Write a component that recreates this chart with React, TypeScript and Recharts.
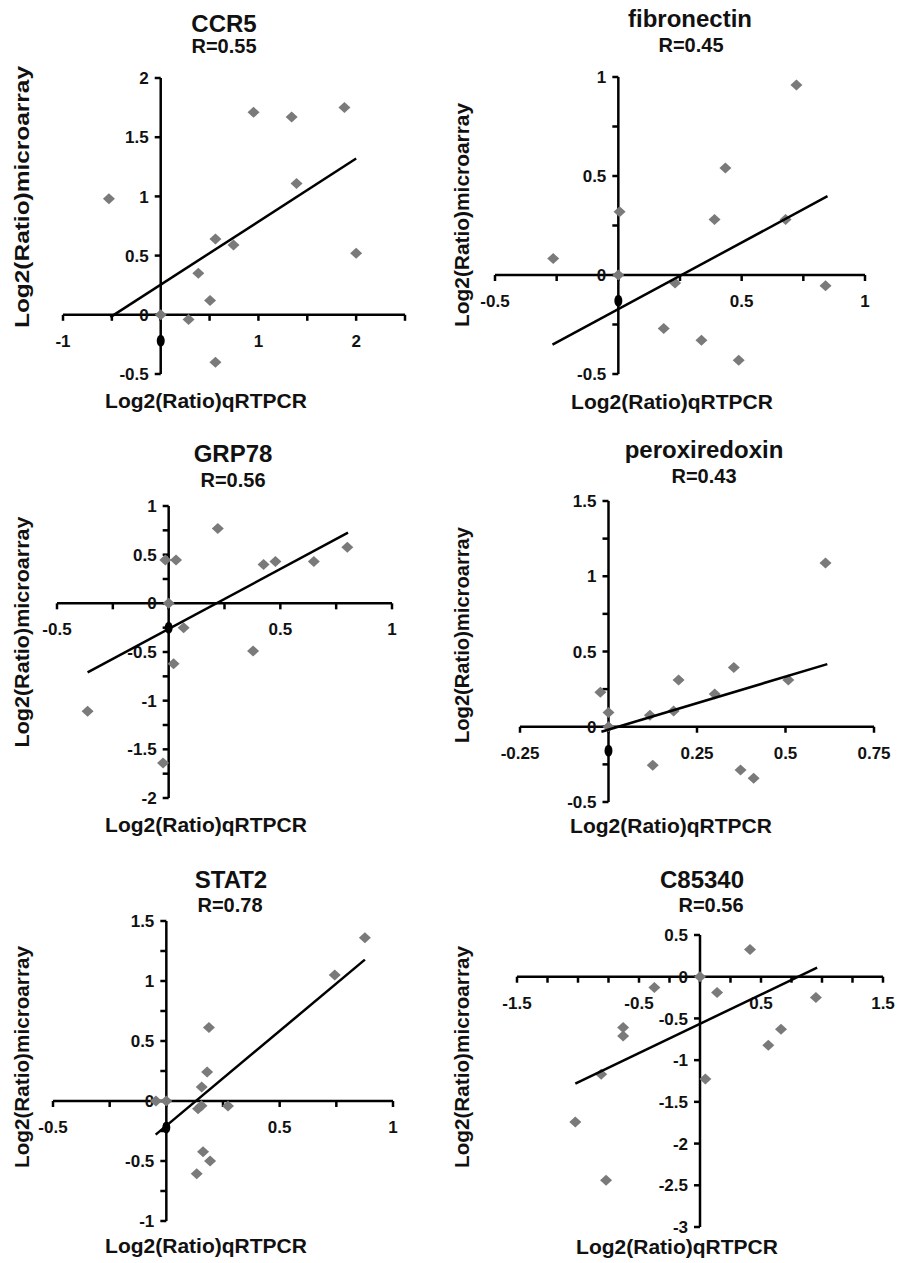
import React from "react";
import { ScatterChart, Scatter, XAxis, YAxis, ReferenceLine, ReferenceDot } from "recharts";

// ---------- data ----------
const ccr5X = [-0.53, 0, 0.285, 0.385, 0.505, 0.56, 0.56, 0.745, 0.95, 1.34, 1.39, 1.88, 2.0];
const ccr5Y = [0.98, 0, -0.04, 0.35, 0.12, 0.64, -0.4, 0.59, 1.71, 1.67, 1.11, 1.75, 0.52];
const ccr5Black = [-0.22];
const ccr5Trend = [[-0.515, -0.02], [2.0, 1.32]];

const fibX = [-0.264, 0, 0.005, 0.23, 0.184, 0.337, 0.39, 0.434, 0.488, 0.678, 0.722, 0.84];
const fibY = [0.083, 0, 0.32, -0.04, -0.27, -0.33, 0.28, 0.54, -0.43, 0.28, 0.96, -0.054];
const fibBlack = [-0.13];
const fibTrend = [[-0.267, -0.352], [0.848, 0.398]];

const grpX = [-0.363, -0.025, -0.015, 0.033, 0, 0.067, 0.022, 0.22, 0.378, 0.425, 0.478, 0.65, 0.8];
const grpY = [-1.11, -1.64, 0.445, 0.445, 0, -0.25, -0.62, 0.77, -0.49, 0.4, 0.43, 0.43, 0.575];
const grpBlack = [-0.25];
const grpTrend = [[-0.363, -0.71], [0.803, 0.726]];

const prxX = [-0.023, 0, 0, 0.117, 0.125, 0.184, 0.198, 0.3, 0.354, 0.373, 0.41, 0.508, 0.613];
const prxY = [0.23, 0.095, 0, 0.077, -0.255, 0.104, 0.31, 0.217, 0.394, -0.288, -0.343, 0.31, 1.088];
const prxBlack = [-0.16];
const prxTrend = [[-0.02, -0.033], [0.618, 0.416]];

const statX = [-0.046, 0, 0.134, 0.14, 0.155, 0.156, 0.162, 0.18, 0.188, 0.193, 0.272, 0.743, 0.876];
const statY = [0, 0, -0.607, -0.065, -0.04, 0.117, -0.423, 0.242, 0.613, -0.5, -0.042, 1.05, 1.36];
const statBlack = [-0.22];
const statTrend = [[-0.047, -0.28], [0.876, 1.178]];

const cX = [-1.022, -0.77, -0.81, -0.63, -0.63, -0.374, 0, 0.044, 0.14, 0.41, 0.56, 0.664, 0.95];
const cY = [-1.74, -2.44, -1.17, -0.61, -0.71, -0.13, 0, -1.225, -0.19, 0.327, -0.82, -0.63, -0.25];
const cBlack: number[] = [];
const cTrend = [[-1.022, -1.28], [0.96, 0.108]];

// ---------- ticks ----------
const ccr5XTicks = [-1, -0.5, 0, 0.5, 1, 1.5, 2, 2.5];
const ccr5XLabels = [-1, 1, 2];
const ccr5YTicks = [-0.5, 0, 0.5, 1, 1.5, 2];
const ccr5YLabels = [-0.5, 0, 0.5, 1, 1.5, 2];

const fibXTicks = [-0.5, -0.25, 0, 0.25, 0.5, 0.75, 1];
const fibXLabels = [-0.5, 0.5, 1];
const fibYTicks = [-0.5, -0.25, 0, 0.25, 0.5, 0.75, 1];
const fibYLabels = [-0.5, 0, 0.5, 1];

const grpXTicks = [-0.5, -0.25, 0, 0.25, 0.5, 0.75, 1];
const grpXLabels = [-0.5, 0.5, 1];
const grpYTicks = [-2, -1.75, -1.5, -1.25, -1, -0.75, -0.5, -0.25, 0, 0.25, 0.5, 0.75, 1];
const grpYLabels = [-2, -1.5, -1, -0.5, 0, 0.5, 1];

const prxXTicks = [-0.25, 0, 0.25, 0.5, 0.75];
const prxXLabels = [-0.25, 0.25, 0.5, 0.75];
const prxYTicks = [-0.5, -0.25, 0, 0.25, 0.5, 0.75, 1, 1.25, 1.5];
const prxYLabels = [-0.5, 0, 0.5, 1, 1.5];

const statXTicks = [-0.5, -0.25, 0, 0.25, 0.5, 0.75, 1];
const statXLabels = [-0.5, 0.5, 1];
const statYTicks = [-1, -0.75, -0.5, -0.25, 0, 0.25, 0.5, 0.75, 1, 1.25, 1.5];
const statYLabels = [-1, -0.5, 0, 0.5, 1, 1.5];

const cXTicks = [-1.5, -1.25, -1, -0.75, -0.5, -0.25, 0, 0.25, 0.5, 0.75, 1, 1.25, 1.5];
const cXLabels = [-1.5, -0.5, 0.5, 1.5];
const cYTicks = [-3, -2.5, -2, -1.5, -1, -0.5, 0, 0.5];
const cYLabels = [-3, -2.5, -2, -1.5, -1, -0.5, 0, 0.5];

// ---------- layout ----------
const FONT = '"Liberation Sans", Arial, Helvetica, sans-serif';
const DIAMOND = "#7a7a7a";
const TICK_FS = 17;

type Panel = {
  title: string; r: string;
  xs: number[]; ys: number[]; black: number[]; trend: number[][];
  xDomain: [number, number]; yDomain: [number, number];
  xTicks: number[]; xLabels: number[]; yTicks: number[]; yLabels: number[];
  box: { left: number; top: number; width: number; height: number };
  margin: { top: number; right: number; bottom: number; left: number };
  titleX: number; titleY: number; rY: number; rX: number;
  xtX: number; xtY: number;
  ytX: number; ytY: number; ytLen: number;
};

const panels: Panel[] = [
  {
    title: "CCR5", r: "R=0.55", xs: ccr5X, ys: ccr5Y, black: ccr5Black, trend: ccr5Trend,
    xDomain: [-1, 2.5], yDomain: [-0.5, 2],
    xTicks: ccr5XTicks, xLabels: ccr5XLabels, yTicks: ccr5YTicks, yLabels: ccr5YLabels,
    box: { left: 0, top: 0, width: 448, height: 420 },
    margin: { top: 78, right: 43, bottom: 46, left: 63 },
    titleX: 224, titleY: 32, rX: 224, rY: 53, xtX: 206, xtY: 408, ytX: 29, ytY: 197, ytLen: 262,
  },
  {
    title: "fibronectin", r: "R=0.45", xs: fibX, ys: fibY, black: fibBlack, trend: fibTrend,
    xDomain: [-0.5, 1], yDomain: [-0.5, 1],
    xTicks: fibXTicks, xLabels: fibXLabels, yTicks: fibYTicks, yLabels: fibYLabels,
    box: { left: 448, top: 0, width: 449, height: 420 },
    margin: { top: 77, right: 32, bottom: 46, left: 47 },
    titleX: 690, titleY: 27, rX: 691, rY: 52, xtX: 672, xtY: 409, ytX: 469, ytY: 215, ytLen: 224,
  },
  {
    title: "GRP78", r: "R=0.56", xs: grpX, ys: grpY, black: grpBlack, trend: grpTrend,
    xDomain: [-0.5, 1], yDomain: [-2, 1],
    xTicks: grpXTicks, xLabels: grpXLabels, yTicks: grpYTicks, yLabels: grpYLabels,
    box: { left: 0, top: 420, width: 448, height: 420 },
    margin: { top: 86, right: 56, bottom: 42, left: 57 },
    titleX: 233, titleY: 462, rX: 233, rY: 487, xtX: 206, xtY: 832, ytX: 29, ytY: 632, ytLen: 231,
  },
  {
    title: "peroxiredoxin", r: "R=0.43", xs: prxX, ys: prxY, black: prxBlack, trend: prxTrend,
    xDomain: [-0.25, 0.75], yDomain: [-0.5, 1.5],
    xTicks: prxXTicks, xLabels: prxXLabels, yTicks: prxYTicks, yLabels: prxYLabels,
    box: { left: 448, top: 420, width: 449, height: 420 },
    margin: { top: 81, right: 23, bottom: 38, left: 72 },
    titleX: 704, titleY: 458, rX: 704, rY: 483, xtX: 671, xtY: 833, ytX: 469, ytY: 635, ytLen: 216,
  },
  {
    title: "STAT2", r: "R=0.78", xs: statX, ys: statY, black: statBlack, trend: statTrend,
    xDomain: [-0.5, 1], yDomain: [-1, 1.5],
    xTicks: statXTicks, xLabels: statXLabels, yTicks: statYTicks, yLabels: statYLabels,
    box: { left: 0, top: 840, width: 448, height: 423 },
    margin: { top: 81, right: 55, bottom: 42, left: 53 },
    titleX: 231, titleY: 888, rX: 230, rY: 912, xtX: 206, xtY: 1253, ytX: 29, ytY: 1057, ytLen: 222,
  },
  {
    title: "C85340", r: "R=0.56", xs: cX, ys: cY, black: cBlack, trend: cTrend,
    xDomain: [-1.5, 1.5], yDomain: [-3, 0.5],
    xTicks: cXTicks, xLabels: cXLabels, yTicks: cYTicks, yLabels: cYLabels,
    box: { left: 448, top: 840, width: 449, height: 423 },
    margin: { top: 95, right: 14, bottom: 36, left: 69 },
    titleX: 702, titleY: 888, rX: 711, rY: 912, xtX: 677, xtY: 1254, ytX: 469, ytY: 1057, ytLen: 222,
  },
];

// ---------- shapes ----------
const Diamond = (p: any) => {
  const { cx, cy } = p;
  if (cx == null || cy == null) return <g />;
  return (
    <polygon
      points={`${cx},${cy - 5.5} ${cx + 6},${cy} ${cx},${cy + 5.5} ${cx - 6},${cy}`}
      fill={DIAMOND}
    />
  );
};

const BlackDot = (p: any) => {
  const { cx, cy } = p;
  if (cx == null || cy == null) return <g />;
  return <ellipse cx={cx} cy={cy} rx={4} ry={6} fill="#000" />;
};

const NoShape = () => <g />;

const makeXTick = (label: string | null) => (p: any) => {
  const { cx, cy } = p;
  return (
    <g>
      <line x1={cx} y1={cy} x2={cx} y2={cy + 6} stroke="#000" strokeWidth={2.5} />
      {label !== null && (
        <text x={cx} y={cy + 32} textAnchor="middle" fontFamily={FONT} fontWeight="bold" fontSize={TICK_FS} fill="#111">
          {label}
        </text>
      )}
    </g>
  );
};

const makeYTick = (label: string | null) => (p: any) => {
  const { cx, cy } = p;
  return (
    <g>
      <line x1={cx - 6} y1={cy} x2={cx} y2={cy} stroke="#000" strokeWidth={2.5} />
      {label !== null && (
        <text x={cx - 12} y={cy} dy="0.36em" textAnchor="end" fontFamily={FONT} fontWeight="bold" fontSize={TICK_FS} fill="#111">
          {label}
        </text>
      )}
    </g>
  );
};

function PanelChart({ p }: { p: Panel }) {
  const pts = p.xs.map((x, i) => ({ x, y: p.ys[i] }));
  const blk = p.black.map((y) => ({ x: 0, y }));
  const trend = p.trend.map(([x, y]) => ({ x, y }));
  return (
    <div style={{ position: "absolute", left: p.box.left, top: p.box.top, width: p.box.width, height: p.box.height }}>
      <ScatterChart width={p.box.width} height={p.box.height} margin={p.margin}>
        <XAxis type="number" dataKey="x" domain={p.xDomain} hide allowDataOverflow height={0} />
        <YAxis type="number" dataKey="y" domain={p.yDomain} hide allowDataOverflow width={0} />
        <ReferenceLine y={0} stroke="#000" strokeWidth={2.5} ifOverflow="visible" />
        <ReferenceLine x={0} stroke="#000" strokeWidth={2.5} ifOverflow="visible" />
        {p.xTicks.map((t) => (
          <ReferenceDot
            key={"xt" + t}
            x={t}
            y={0}
            r={0}
            ifOverflow="visible"
            shape={makeXTick(p.xLabels.includes(t) ? String(t) : null)}
          />
        ))}
        {p.yTicks.map((t) => (
          <ReferenceDot
            key={"yt" + t}
            x={0}
            y={t}
            r={0}
            ifOverflow="visible"
            shape={makeYTick(p.yLabels.includes(t) ? String(t) : null)}
          />
        ))}
        <Scatter data={pts} shape={Diamond} isAnimationActive={false} />
        <Scatter data={trend} shape={NoShape} line={{ stroke: "#000", strokeWidth: 2.5 }} isAnimationActive={false} />
        {blk.length > 0 && <Scatter data={blk} shape={BlackDot} isAnimationActive={false} />}
      </ScatterChart>
    </div>
  );
}

export default function App() {
  return (
    <div style={{ position: "absolute", left: 0, top: 0, width: 897, height: 1263, background: "#fff", overflow: "hidden" }}>
      {panels.map((p) => (
        <PanelChart key={p.title} p={p} />
      ))}
      <svg
        width={897}
        height={1263}
        style={{ position: "absolute", left: 0, top: 0, pointerEvents: "none" }}
      >
        {panels.map((p) => (
          <g key={"t" + p.title} fontFamily={FONT} fontWeight="bold" fill="#111">
            <text x={p.titleX} y={p.titleY} textAnchor="middle" fontSize={24}>{p.title}</text>
            <text x={p.rX} y={p.rY} textAnchor="middle" fontSize={20}>{p.r}</text>
            <text x={p.xtX} y={p.xtY} textAnchor="middle" fontSize={21}>Log2(Ratio)qRTPCR</text>
            <text
              x={p.ytX}
              y={p.ytY}
              textAnchor="middle"
              fontSize={21}
              textLength={p.ytLen}
              lengthAdjust="spacingAndGlyphs"
              transform={`rotate(-90 ${p.ytX} ${p.ytY})`}
            >
              Log2(Ratio)microarray
            </text>
          </g>
        ))}
      </svg>
    </div>
  );
}
